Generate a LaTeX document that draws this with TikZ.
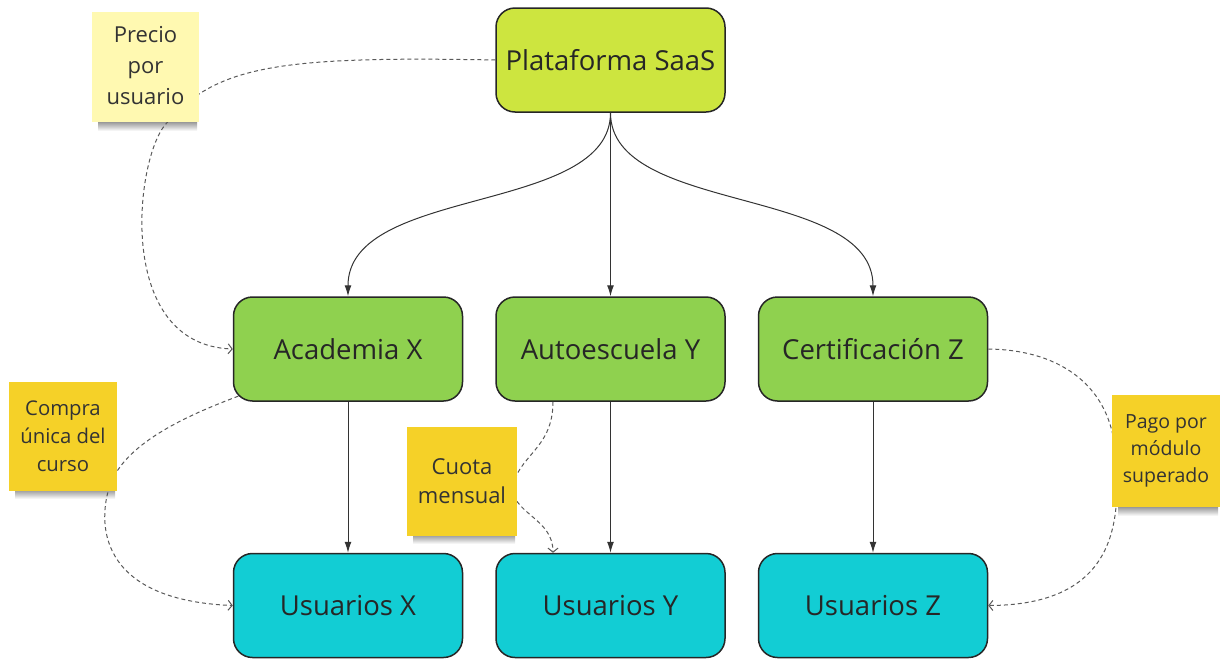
\documentclass[tikz,border=0pt]{standalone}
\usepackage{fontspec}
\setmainfont{Open Sans}
\usetikzlibrary{arrows.meta}
\definecolor{saas}{HTML}{CDE53F}
\definecolor{academ}{HTML}{8FD14F}
\definecolor{usr}{HTML}{12CDD4}
\definecolor{stpale}{HTML}{FFF9B1}
\definecolor{styel}{HTML}{F5D128}
\definecolor{edgecol}{HTML}{333333}
\begin{document}
\begin{tikzpicture}[x=1pt,y=-1pt,
 box/.style={draw=black!85, line width=1.5pt, rounded corners=19pt, minimum width=229pt, minimum height=104pt, inner sep=0pt, font=\fontsize{27.5}{30}\selectfont, text=black!85},
 sticky/.style={minimum width=108pt, minimum height=109pt, inner sep=0pt, align=center, font=\fontsize{19.5}{28.5}\selectfont, text=black!80},
 flow/.style={draw=edgecol, line width=1pt, -{Latex[length=11pt,width=7pt]}},
 note/.style={draw=black!65, line width=1pt, dash pattern=on 4pt off 3pt, -{Straight Barb[length=4pt,width=10pt]}},
 shadowbar/.style={top color=black!50, bottom color=white, opacity=.8},
]
\useasboundingbox (0,0) rectangle (1221,659);
% sticky shadows
\shade[shadowbar] (98,122) rectangle (197,131);
\shade[shadowbar] (15,490) rectangle (115,499);
\shade[shadowbar] (413,535) rectangle (515,544);
\shade[shadowbar] (1118,507) rectangle (1218,516);
% main nodes
\node[box, fill=saas] (plat) at (610.5,60) {Plataforma SaaS};
\node[box, fill=academ] (acad) at (348,349) {Academia X};
\node[box, fill=academ] (auto) at (610.5,349) {Autoescuela Y};
\node[box, fill=academ] (cert) at (873,349) {Certificación Z};
\node[box, fill=usr] (usrx) at (348,605.5) {Usuarios X};
\node[box, fill=usr] (usry) at (610.5,605.5) {Usuarios Y};
\node[box, fill=usr] (usrz) at (873,605.5) {Usuarios Z};
% solid connectors
\draw[flow] (plat.south) .. controls (610.5,215) and (348,185) .. (acad.north);
\draw[flow] (plat.south) -- (auto.north);
\draw[flow] (plat.south) .. controls (610.5,215) and (873,185) .. (cert.north);
\draw[flow] (acad.south) -- (usrx.north);
\draw[flow] (auto.south) -- (usry.north);
\draw[flow] (cert.south) -- (usrz.north);
% dashed connectors
\draw[note] (plat.west) .. controls (280,56) and (215,65) .. (165,125) .. controls (135,161) and (115,345) .. (acad.west);
\draw[note] ([xshift=5.6pt,yshift=5.6pt]acad.south west) .. controls (180,418) and (125,445) .. (110,485) .. controls (98,520) and (95,600) .. (usrx.west);
\draw[note] ([xshift=-57.5pt]auto.south) .. controls (553,450) and (517,455) .. (512,490) .. controls (517,515) and (553,520) .. ([xshift=-57.5pt]usry.north);
\draw[note] (cert.east) .. controls (1065,350) and (1110,390) .. (1115,450) .. controls (1120,510) and (1125,605) .. (usrz.east);
% stickies
\node[sticky, fill=stpale, minimum width=107pt, minimum height=110pt, font=\fontsize{22}{30}\selectfont] (precio) at (145.5,67) {\raisebox{4pt}{\begin{tabular}{@{}c@{}}Precio\\[1pt]por\\[1pt]usuario\end{tabular}}};
\node[sticky, fill=styel, font=\fontsize{20.3}{28}\selectfont] (compra) at (63,436) {Compra\\única del\\curso};
\node[sticky, fill=styel, minimum width=110pt, font=\fontsize{22}{29}\selectfont] (cuota) at (462,481) {Cuota\\mensual};
\node[sticky, fill=styel, minimum height=112pt, font=\fontsize{19.5}{27}\selectfont] (pago) at (1166,451) {Pago por\\módulo\\superado};
\end{tikzpicture}
\end{document}
